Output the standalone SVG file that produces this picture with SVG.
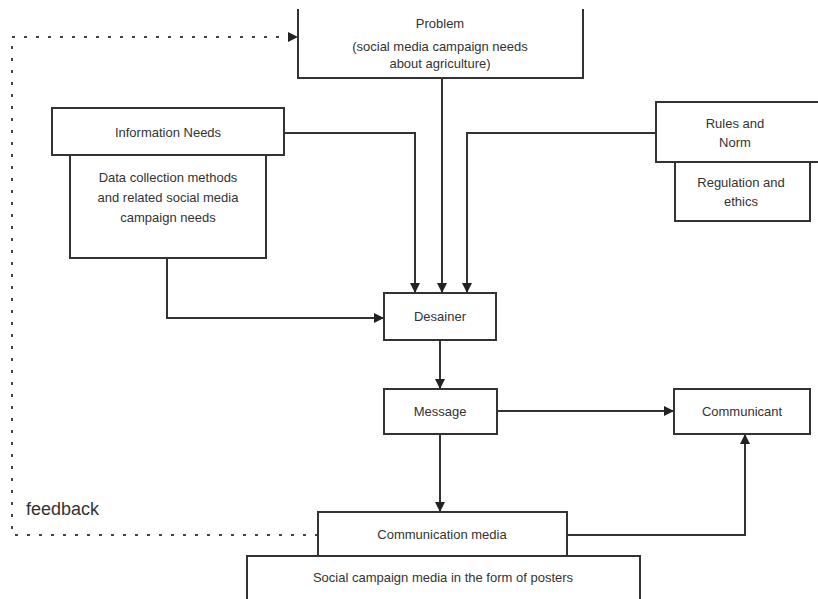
<svg xmlns="http://www.w3.org/2000/svg" width="818" height="599" viewBox="0 0 818 599">
<style>
.b{fill:#fff;stroke:#333;stroke-width:2}
.t{font-family:"Liberation Sans",Arial,sans-serif;font-size:13px;fill:#333;text-anchor:middle}
.c{fill:none;stroke:#333;stroke-width:2}
.d{fill:none;stroke:#444;stroke-width:2;stroke-dasharray:3 9}
</style>
<defs>
<marker id="a" markerWidth="10" markerHeight="10" refX="9" refY="5" orient="auto" markerUnits="userSpaceOnUse">
<path d="M0,0 L10,5 L0,10 z" fill="#222"/>
</marker>
</defs>
<rect width="818" height="599" fill="#fff"/>
<g id="connectors">
<path class="c" d="M284,133 H415 V292" marker-end="url(#a)"/>
<path class="c" d="M442,78 V292" marker-end="url(#a)"/>
<path class="c" d="M656,133 H467 V292" marker-end="url(#a)"/>
<path class="c" d="M167,258 V318 H383" marker-end="url(#a)"/>
<path class="c" d="M440,340 V388" marker-end="url(#a)"/>
<path class="c" d="M497,411 H673" marker-end="url(#a)"/>
<path class="c" d="M440,434 V511" marker-end="url(#a)"/>
<path class="c" d="M567,535 H745 V435" marker-end="url(#a)"/>
<path class="d" d="M318,535 H12 V37 H288"/>
<path d="M288,32 L298,37 L288,42 z" fill="#222"/>
</g>
<g id="problem">
<path class="b" d="M298,9 V78 H583 V9"/>
<text class="t" x="440" y="28">Problem</text>
<text class="t" x="440" y="51">(social media campaign needs</text>
<text class="t" x="440" y="68">about agriculture)</text>
</g>
<g id="information-needs">
<rect class="b" x="70" y="155" width="196" height="103"/>
<rect class="b" x="52" y="108" width="232" height="47"/>
<text class="t" x="168" y="137">Information Needs</text>
<text class="t" x="168" y="182">Data collection methods</text>
<text class="t" x="168" y="202">and related social media</text>
<text class="t" x="168" y="222">campaign needs</text>
</g>
<g id="rules">
<rect class="b" x="675" y="162" width="135" height="59"/>
<rect class="b" x="656" y="102" width="170" height="60"/>
<text class="t" x="735" y="128">Rules and</text>
<text class="t" x="735" y="147">Norm</text>
<text class="t" x="741" y="187">Regulation and</text>
<text class="t" x="741" y="206">ethics</text>
</g>
<g id="desainer">
<rect class="b" x="384" y="293" width="112" height="47"/>
<text class="t" x="440" y="321">Desainer</text>
</g>
<g id="message">
<rect class="b" x="384" y="389" width="113" height="45"/>
<text class="t" x="440" y="416">Message</text>
</g>
<g id="communicant">
<rect class="b" x="674" y="389" width="136" height="45"/>
<text class="t" x="742" y="416">Communicant</text>
</g>
<g id="communication-media">
<rect class="b" x="247" y="556" width="393" height="50"/>
<rect class="b" x="318" y="512" width="249" height="44"/>
<text class="t" x="442" y="539">Communication media</text>
<text class="t" x="443" y="582">Social campaign media in the form of posters</text>
</g>
<text x="26" y="515" style="font-family:'Liberation Sans',Arial,sans-serif;font-size:18px;fill:#333">feedback</text>
</svg>
